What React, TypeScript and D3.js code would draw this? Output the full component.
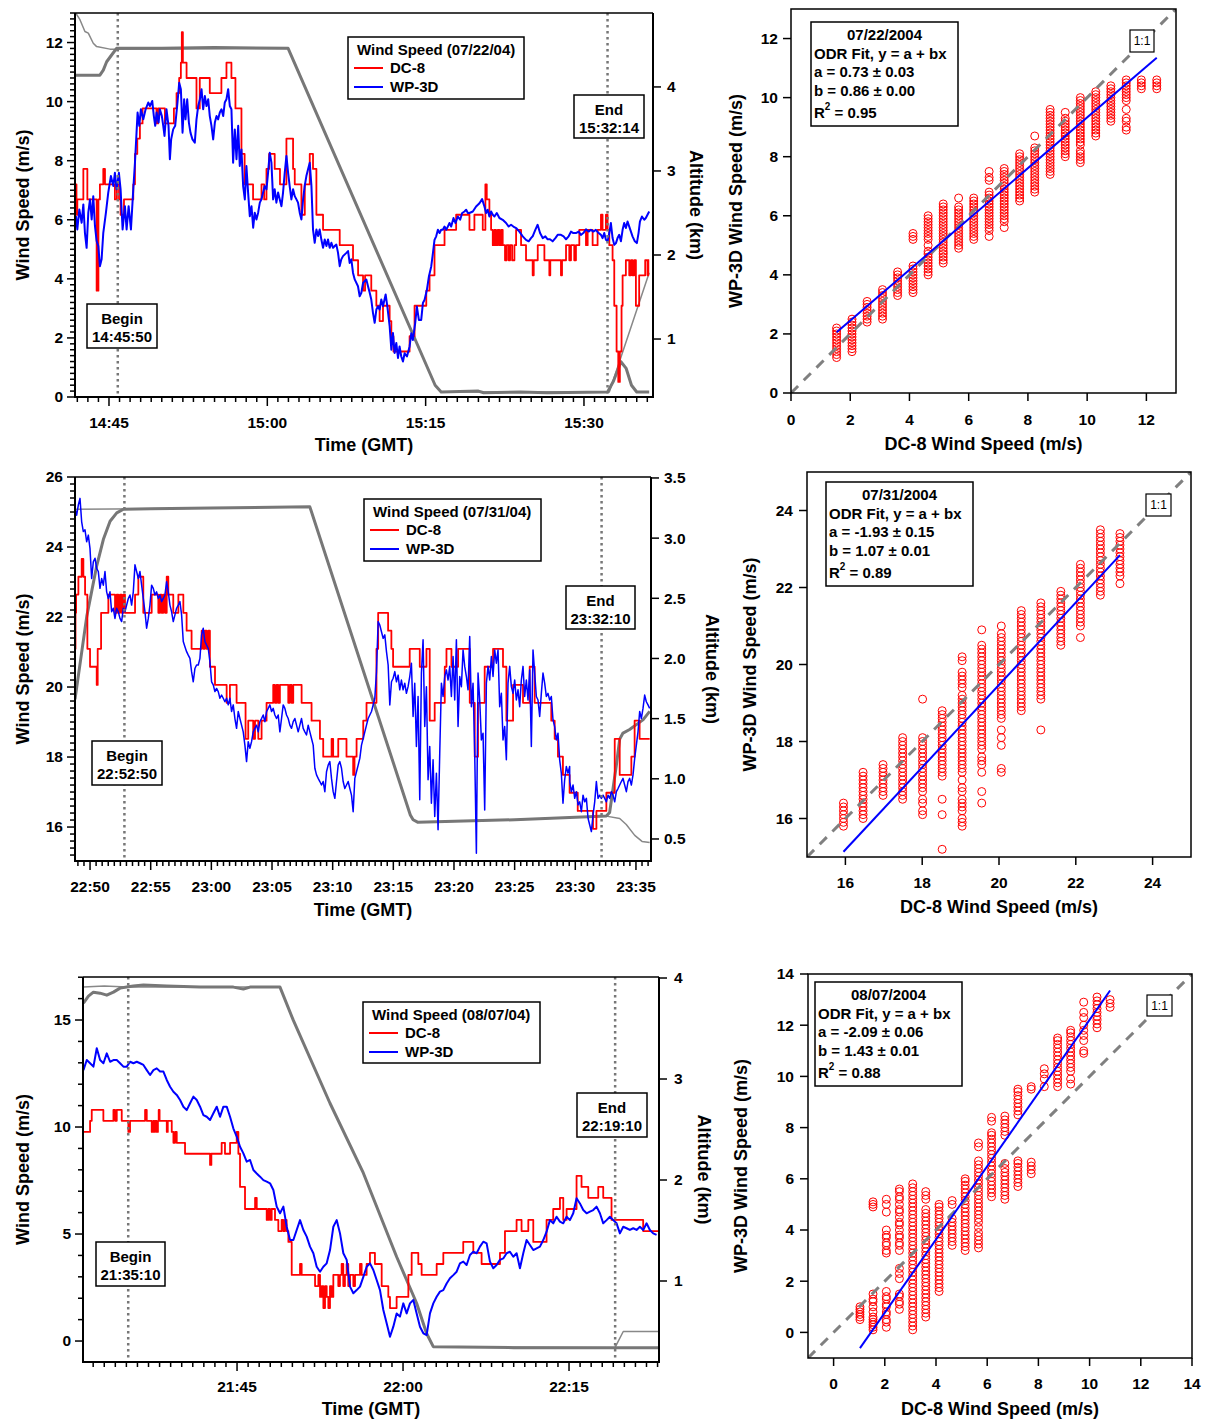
import React from "react";
import * as d3 from "d3";

type Pt = [number, number];

// ================= DATA =================
// Panel A (07/22/04) — time in minutes after 14:00 GMT
const dc8A: Pt[] = [
  [41.85,7.20],[41.92,6.17],[42.0,6.69],[42.57,7.72],[42.95,6.69],[43.83,3.60],[44.0,6.69],[44.14,7.20],[44.46,7.72],[44.62,7.20],
  [45.56,6.69],[45.75,7.20],[45.95,6.69],[46.1,6.17],[46.42,6.69],[47.3,7.20],[47.46,8.23],[47.68,8.75],[47.93,9.26],[48.18,9.77],
  [49.5,9.26],[49.65,9.77],[50.3,9.26],[51.15,9.77],[51.4,10.29],[51.65,10.80],[51.81,11.32],[51.9,12.35],[52.0,11.32],[52.35,10.80],
  [53.29,9.77],[53.6,10.80],[54.55,10.29],[55.65,10.80],[56.13,11.32],[56.6,10.80],[56.98,9.77],[57.55,8.23],[57.85,7.20],[58.65,6.69],
  [59.45,7.20],[59.7,6.69],[59.92,7.72],[60.17,8.23],[60.7,7.72],[61.2,7.20],[61.81,8.75],[62.44,7.72],[62.6,7.20],[63.23,6.17],
  [63.55,7.20],[64.02,8.23],[64.33,7.72],[64.65,6.17],[65.28,5.66],[66.86,5.14],[68.12,4.63],[68.6,4.12],[69.07,3.60],[69.26,4.12],
  [69.85,3.60],[70.33,3.09],[70.64,2.57],[70.96,3.09],[71.59,2.57],[71.75,2.06],[71.95,1.54],[73.48,2.06],[73.95,3.09],[75.06,3.60],
  [75.37,4.12],[75.84,5.14],[76.79,5.66],[77.89,6.17],[79.15,5.66],[79.62,6.17],[80.41,5.66],[80.66,7.20],[80.79,6.69],[81.04,6.17],
  [81.2,5.66],[81.36,5.14],[81.52,5.66],[81.67,5.14],[81.83,5.66],[81.99,5.14],[82.15,5.66],[82.3,5.14],[82.52,4.63],[82.68,5.14],
  [82.87,4.63],[83.0,5.14],[83.19,4.63],[83.41,5.14],[83.57,5.66],[84.04,5.14],[84.51,4.63],[85.14,4.12],[85.24,4.63],[85.62,5.14],
  [86.25,4.63],[86.72,4.12],[86.81,4.63],[87.82,4.12],[87.92,4.63],[88.3,5.14],[88.61,4.63],[88.77,5.14],[89.08,4.63],[89.24,5.14],
  [89.56,5.66],[90.19,5.14],[90.35,5.66],[90.82,5.14],[91.29,5.66],[91.61,6.17],[91.76,5.66],[92.08,6.17],[92.24,5.66],[92.4,5.14],
  [92.71,4.63],[92.87,3.09],[93.09,1.54],[93.25,0.51],[93.4,1.54],[93.56,3.09],[93.66,4.12],[93.97,4.63],[94.29,4.12],[94.45,4.63],
  [94.6,4.12],[94.76,4.63],[94.92,3.09],[95.23,4.12],[95.8,4.63],[96.02,4.12],[96.1,4.63],[96.18,4.63]
];
const wp3dA: Pt[] = [
  [41.87,6.12],[42.0,5.67],[42.19,6.35],[42.41,5.9],[42.57,6.52],[42.72,5.56],[42.88,5.05],[43.04,6.24],[43.2,6.69],[43.36,6.01],
  [43.51,6.8],[43.67,5.79],[43.83,5.28],[43.99,5.11],[44.14,4.43],[44.3,4.66],[44.46,5.56],[44.71,6.24],[44.93,6.92],[45.18,7.48],
  [45.41,7.14],[45.56,7.59],[45.72,7.03],[45.94,7.59],[46.1,7.03],[46.29,5.67],[46.51,6.46],[46.67,5.67],[46.86,6.46],[47.08,5.67],
  [47.3,7.03],[47.46,7.93],[47.61,8.95],[47.71,9.63],[47.87,9.18],[48.02,9.74],[48.25,9.4],[48.47,9.74],[48.72,9.97],[48.88,9.85],
  [49.1,10.02],[49.25,9.51],[49.38,9.18],[49.51,9.63],[49.7,9.29],[49.82,9.74],[50.01,9.51],[50.14,9.18],[50.26,8.84],[50.45,9.74],
  [50.64,9.18],[50.77,8.05],[50.89,8.72],[51.08,9.06],[51.27,9.18],[51.49,9.97],[51.65,10.64],[51.81,10.42],[51.97,8.95],[52.12,10.08],
  [52.25,9.4],[52.41,10.08],[52.57,9.29],[52.72,8.95],[52.91,8.72],[53.13,8.61],[53.29,9.4],[53.45,9.85],[53.61,10.08],[53.77,10.42],
  [53.92,9.74],[54.08,10.19],[54.24,9.85],[54.4,10.08],[54.55,9.51],[54.71,9.18],[54.87,8.72],[55.03,9.29],[55.19,9.51],[55.34,9.4],
  [55.5,9.63],[55.66,9.74],[55.82,9.51],[55.97,9.97],[56.13,10.08],[56.29,10.42],[56.45,9.85],[56.6,9.74],[56.76,7.93],[56.92,9.06],
  [57.08,8.05],[57.24,9.18],[57.39,7.82],[57.55,8.38],[57.71,7.14],[57.87,6.69],[58.02,7.82],[58.18,6.92],[58.34,6.12],[58.5,6.46],
  [58.66,5.73],[58.81,6.24],[58.97,6.01],[59.13,6.24],[59.29,6.58],[59.44,6.69],[59.6,6.92],[59.76,7.14],[59.92,7.03],[60.07,7.59],
  [60.23,8.27],[60.39,7.93],[60.55,6.69],[60.7,7.03],[60.86,6.58],[61.02,6.92],[61.18,6.69],[61.34,6.46],[61.49,6.92],[61.65,7.59],
  [61.81,8.16],[61.97,7.59],[62.12,7.14],[62.28,6.69],[62.44,7.03],[62.6,6.8],[62.76,6.69],[62.91,6.58],[63.07,6.24],[63.23,6.01],
  [63.39,6.69],[63.54,7.14],[63.7,7.48],[63.86,7.71],[64.02,7.93],[64.18,7.14],[64.33,5.67],[64.49,5.22],[64.65,5.67],[64.81,5.45],
  [64.96,5.67],[65.12,5.33],[65.28,5.05],[65.44,5.33],[65.6,5.11],[65.75,5.33],[65.91,5.05],[66.07,5.22],[66.23,5.05],[66.38,5.11],
  [66.54,5.16],[66.7,4.88],[66.86,4.43],[67.01,4.66],[67.17,4.77],[67.49,4.88],[67.65,4.94],[67.8,4.54],[67.96,4.66],[68.12,4.2],
  [68.28,3.98],[68.59,3.75],[68.75,3.41],[68.91,3.53],[69.07,3.86],[69.38,3.98],[69.54,3.75],[69.7,3.53],[69.85,3.3],[70.01,2.85],
  [70.17,2.51],[70.33,2.96],[70.49,3.07],[70.64,2.96],[70.8,3.3],[70.96,3.07],[71.21,3.47],[71.37,3.07],[71.59,2.4],[71.75,1.6],
  [71.9,2.17],[72.06,1.49],[72.22,1.83],[72.38,1.32],[72.53,1.71],[72.69,1.37],[72.85,1.2],[73.01,1.48],[73.23,1.37],[73.48,1.71],
  [73.64,2.16],[73.79,1.93],[74.01,2.5],[74.17,3.06],[74.36,2.61],[74.58,2.61],[74.74,3.18],[74.9,3.29],[75.12,3.63],[75.31,4.08],
  [75.53,4.42],[75.69,4.87],[75.84,5.32],[76.0,5.44],[76.16,5.66],[76.32,5.55],[76.47,5.66],[76.63,5.66],[76.79,5.77],[76.95,5.66],
  [77.1,5.77],[77.26,5.89],[77.42,5.77],[77.64,6.06],[77.83,5.89],[78.05,6.11],[78.27,6.0],[78.46,6.23],[78.68,6.28],[78.84,6.34],
  [79.0,6.23],[79.15,6.23],[79.47,6.28],[79.78,6.45],[80.1,6.56],[80.35,6.7],[80.57,6.45],[80.73,6.23],[80.88,6.34],[81.04,6.11],
  [81.2,6.28],[81.36,6.17],[81.52,6.11],[81.74,6.23],[81.99,6.06],[82.3,6.0],[82.62,5.89],[82.87,5.77],[83.09,5.83],[83.31,5.77],
  [83.57,5.72],[83.88,5.6],[84.2,5.44],[84.51,5.32],[84.76,5.27],[84.98,5.38],[85.14,5.44],[85.39,5.66],[85.61,5.83],[85.84,5.55],
  [86.09,5.38],[86.34,5.44],[86.56,5.34],[86.78,5.34],[87.03,5.27],[87.29,5.38],[87.51,5.49],[87.82,5.49],[88.07,5.44],[88.3,5.34],
  [88.55,5.44],[88.77,5.6],[88.99,5.55],[89.24,5.55],[89.49,5.6],[89.71,5.49],[89.94,5.55],[90.19,5.68],[90.44,5.6],[90.66,5.66],
  [90.88,5.6],[91.13,5.66],[91.39,5.55],[91.61,5.49],[91.76,5.38],[91.92,5.55],[92.08,5.32],[92.24,5.27],[92.4,5.55],[92.55,5.89],
  [92.71,5.38],[92.87,5.15],[93.03,5.21],[93.18,5.38],[93.34,5.49],[93.5,5.27],[93.66,5.66],[93.81,5.89],[93.97,5.72],[94.13,5.94],
  [94.29,5.77],[94.45,5.6],[94.6,5.44],[94.82,5.27],[95.01,5.21],[95.17,5.55],[95.3,5.94],[95.49,6.11],[95.71,6.0],[95.86,6.06],
  [96.02,6.17],[96.18,6.28]
];
const altThickA: Pt[] = [
  [41.87,4.14],[44.14,4.14],[44.46,4.2],[44.78,4.3],[45.25,4.38],[45.72,4.46],[50.0,4.46],[55.0,4.47],[61.97,4.46],[75.9,0.45],
  [76.47,0.37],[80.0,0.38],[80.5,0.36],[84.0,0.37],[86.5,0.36],[92.24,0.37],[92.8,0.5],[93.5,0.73],[94.0,0.65],[94.5,0.45],
  [95.0,0.37],[96.18,0.37]
];
const altThinA: Pt[] = [
  [41.85,4.88],[42.25,4.8],[42.72,4.66],[43.04,4.64],[43.51,4.52],[43.83,4.48],[45.09,4.45],[61.97,4.46],[75.9,0.45],[76.47,0.37],
  [92.4,0.37],[96.18,1.79]
];

// Panel B (07/31/04) — time in minutes after 22:00 GMT
const dc8B: Pt[] = [
  [48.76,21.09],[48.8,22.12],[48.85,22.64],[49.04,23.15],[49.31,23.66],[49.45,23.15],[49.59,22.64],[49.78,21.09],[50.0,20.58],[50.55,20.06],
  [50.63,21.09],[50.91,22.12],[51.51,22.64],[52.06,22.12],[52.2,22.64],[52.33,22.12],[52.47,22.64],[52.61,22.12],[52.75,22.64],[52.88,22.12],
  [53.71,22.64],[53.98,23.15],[54.39,22.12],[55.08,22.64],[55.63,22.12],[55.77,22.64],[55.9,22.12],[56.04,22.64],[56.18,22.12],[56.32,23.15],
  [56.45,22.64],[56.86,22.12],[57.28,22.64],[57.69,22.12],[57.96,21.61],[58.37,21.09],[59.2,21.61],[59.34,21.09],[59.47,21.61],[59.61,21.09],
  [59.75,21.61],[59.88,20.58],[60.3,20.06],[61.26,19.55],[61.53,20.06],[62.08,19.55],[62.82,18.52],[63.04,19.04],[63.45,18.52],[63.6,19.04],
  [63.87,18.52],[64.14,19.04],[64.55,19.55],[65.1,20.06],[65.24,19.55],[65.38,20.06],[65.51,19.55],[65.65,20.06],[66.34,19.55],[66.47,20.06],
  [66.61,19.55],[66.75,20.06],[67.44,19.55],[68.26,19.04],[68.95,18.52],[69.22,18.01],[69.91,18.52],[70.04,18.01],[70.46,18.52],[71.14,18.01],
  [71.69,17.49],[71.8,18.01],[71.97,18.52],[72.52,19.04],[72.79,19.55],[73.61,21.09],[73.75,22.12],[74.57,21.61],[74.84,21.09],[74.98,20.58],
  [76.35,21.09],[77.18,20.58],[77.73,21.09],[78.0,19.04],[78.41,19.55],[79.24,20.58],[79.38,21.09],[79.79,20.58],[80.34,21.09],[81.3,19.55],
  [81.71,18.01],[81.98,19.55],[82.53,20.58],[83.22,21.09],[84.04,20.58],[84.32,19.04],[84.87,20.06],[85.69,19.55],[86.24,20.58],[86.65,19.55],
  [88.02,19.04],[88.3,18.52],[88.57,18.01],[88.98,17.49],[89.53,16.98],[90.2,16.46],[91.46,15.95],[91.74,16.46],[92.56,16.98],[93.25,18.52],
  [93.66,17.49],[94.62,18.01],[94.89,19.04],[95.3,18.52],[96.13,18.52]
];
// WP-3D, sampled every 0.1373 min
const wp3dB1Start = 48.76;
const wp3dB1: number[] = [
  25.10,24.91,25.20,25.39,24.72,24.44,24.49,24.15,24.34,23.96,23.10,23.58,23.68,23.39,23.30,22.82,23.10,22.91,23.30,22.72,
  22.53,22.72,22.15,22.25,21.96,22.25,22.15,21.96,21.87,22.25,22.15,22.34,22.53,22.63,22.34,22.72,23.49,23.30,23.10,23.30,
  22.91,22.53,22.15,21.68,21.96,22.34,22.91,22.82,22.63,22.72,22.53,22.63,22.44,22.53,22.63,23.01,22.72,22.34,22.15,21.87,
  22.06,22.25,22.34,22.44,22.06,21.30,21.15,21.01,20.91,20.82,20.44,20.15,20.53,20.63,20.63,20.82,21.49,21.68,21.30,21.20,
  21.10,20.72,20.15,20.06,19.87,19.96,19.87,19.68,19.77,19.68,19.58,19.68,19.49,19.68,19.30,19.49,19.10,18.82,19.30,19.10,
  18.91,18.72,18.34,17.87,18.44,18.25,18.44,18.72,18.82,18.91,18.72,19.01,19.10,19.20,19.01,19.30,19.39,19.49,19.30,19.39,
  19.20,19.10,19.20,18.72,19.10,19.49,19.39,19.20,19.10,18.91,18.82,19.01,19.10,18.91,18.72,18.91,19.10,18.82,18.72,18.63,
  18.91,18.72,18.53,18.34,17.68,17.49,17.39,17.30,17.20,17.30,17.01,17.58,17.77,17.87,17.39,17.01,16.82,17.30,17.77,17.87,
  17.68,17.30,17.10,17.20,17.30,17.10,16.91,16.44,17.39,17.58,17.77,17.96,18.34,18.53,18.72,18.91,19.10,19.20,19.30,19.49,
  19.68,20.44,21.87,21.77,21.58,21.39,21.49,21.01,20.63,19.49,20.15,20.25,20.44,20.15,20.34
];
const wp3dB2Start = 75.53;
const wp3dB2: number[] = [
  19.92,20.20,19.92,20.11,19.82,20.01,20.30,20.68,19.16,20.11,18.30,19.73,16.78,20.40,21.35,18.87,20.01,17.35,18.30,16.68,
  17.92,16.30,17.54,15.92,18.11,20.11,19.73,20.30,20.49,20.20,20.59,19.73,20.87,19.63,21.35,18.87,20.30,20.01,21.06,20.59,
  20.30,19.92,21.44,19.44,20.11,18.11,15.25,20.40,19.63,18.49,18.68,16.49,20.11,20.59,20.20,20.87,20.30,21.06,20.68,21.06,
  19.44,19.82,18.49,18.87,17.92,20.11,20.59,20.01,19.82,20.20,19.63,19.92,19.44,20.20,20.59,19.73,20.20,19.63,20.49,18.30,
  21.06,20.40,19.73,19.63,19.16,19.82,20.40,20.11,19.73,19.82,19.63,19.73,19.06,18.87,18.49,18.68,17.92,17.54,16.68,17.35,
  17.73,17.54,17.73
];
const wp3dB3Start = 89.54;
const wp3dB3: number[] = [
  17.30,17.01,17.20,16.82,17.01,16.63,16.72,16.44,16.91,16.72,16.82,16.25,16.06,15.87,16.34,16.72,17.30,16.82,16.91,16.82,
  16.91,16.82,16.72,16.91,16.82,17.01,16.91,16.72,17.01,17.10,17.20,17.30,17.39,17.20,17.01,17.30,17.39,17.20,17.49,17.96,
  18.34,18.72,19.30,19.10,19.39,19.77,19.58,19.49,19.39
];
const wp3dBStep = 0.1373;
const altThickB: Pt[] = [
  [48.76,1.66],[49.73,2.35],[50.55,2.77],[51.1,2.99],[51.65,3.14],[52.2,3.21],[52.75,3.24],[55.0,3.245],[60.0,3.25],[68.12,3.26],
  [76.4,0.70],[76.63,0.66],[77.0,0.64],[85.0,0.66],[92.56,0.69],[92.83,0.72],[93.38,1.11],[93.66,1.33],[93.93,1.38],[94.48,1.41],
  [95.03,1.45],[95.58,1.49],[96.13,1.56]
];
const altThinB: Pt[] = [
  [48.76,3.24],[55.0,3.245],[68.12,3.26],[76.4,0.70],[76.63,0.66],[77.0,0.64],[85.0,0.66],[92.56,0.69],[93.66,0.67],[94.2,0.62],
  [94.9,0.53],[95.5,0.48],[96.13,0.47]
];

// Panel C (08/07/04) — time in minutes after 21:00 GMT
const dc8C: Pt[] = [
  [31.12,9.77],[31.72,10.29],[31.87,10.80],[32.92,10.29],[33.83,10.80],[33.98,10.29],[34.13,10.80],[34.58,10.29],[35.18,9.77],[35.33,10.29],
  [36.69,10.80],[36.84,10.29],[37.29,9.77],[37.44,10.29],[37.52,9.77],[37.59,10.29],[37.74,9.77],[37.85,10.29],[37.92,10.80],[38.0,10.29],
  [38.65,9.77],[38.74,10.29],[39.1,9.77],[39.25,9.26],[39.4,9.77],[39.55,9.26],[40.3,8.75],[42.56,8.23],[42.68,8.75],[43.61,9.26],
  [43.91,8.75],[44.37,9.26],[44.97,9.77],[45.12,8.75],[45.27,7.20],[45.72,6.17],[46.63,6.69],[46.78,6.17],[47.68,5.66],[47.83,6.17],
  [47.98,5.66],[48.13,6.17],[48.43,5.66],[48.73,5.14],[49.03,5.66],[49.18,5.14],[49.33,5.66],[49.48,5.14],[49.64,4.63],[49.94,3.09],
  [50.69,3.60],[50.84,3.09],[52.05,2.57],[52.35,3.09],[52.5,2.06],[52.65,2.57],[52.8,1.54],[52.95,2.57],[53.1,2.06],[53.25,1.54],
  [53.4,2.57],[53.55,2.06],[53.7,3.09],[54.15,2.57],[54.3,3.09],[54.45,3.60],[54.6,2.57],[54.75,3.09],[54.9,3.60],[55.05,2.57],
  [55.21,3.09],[55.51,2.57],[55.66,3.09],[56.11,3.60],[56.26,3.09],[56.71,3.60],[57.01,4.12],[57.46,3.60],[58.07,2.57],[58.67,2.06],
  [58.82,1.54],[59.42,2.06],[60.48,3.09],[60.78,4.12],[61.38,3.60],[61.68,3.09],[63.04,3.60],[63.64,4.12],[65.44,4.63],[66.35,4.12],
  [66.65,4.12],[67.1,3.60],[68.76,4.12],[69.21,5.14],[70.26,5.66],[70.71,5.14],[71.32,5.66],[71.77,4.63],[72.97,5.66],[73.57,6.17],
  [74.18,6.69],[74.48,5.66],[74.78,6.17],[75.68,7.72],[76.13,7.20],[76.74,6.69],[77.64,7.20],[78.09,6.69],[78.84,5.66],[81.7,5.14],
  [83.12,5.14]
];
// WP-3D, sampled every 0.3011 min
const wp3dCStart = 31.12;
const wp3dCStep = 0.3011;
const wp3dC: number[] = [
  12.66,13.13,12.98,12.82,13.68,13.13,12.98,13.44,13.05,13.13,13.13,12.98,12.82,12.82,13.05,12.98,13.05,12.98,12.90,12.66,
  12.43,12.66,12.74,12.59,12.59,12.20,11.88,11.65,11.50,11.26,10.95,10.79,11.11,11.42,11.26,10.95,10.56,10.48,10.33,10.64,
  10.95,10.48,10.95,10.95,10.48,9.93,9.55,9.08,8.77,8.38,8.46,7.99,7.83,7.68,7.52,7.45,7.37,7.06,6.28,5.97,
  6.28,5.34,4.72,4.72,5.19,5.65,5.19,4.88,4.41,4.10,3.47,3.24,3.47,3.63,4.25,5.34,5.65,5.03,4.10,3.79,
  2.54,2.23,2.38,2.54,3.00,3.47,3.63,3.32,2.85,2.38,1.45,0.83,0.20,0.67,1.29,1.14,
  1.76,1.29,1.76,1.92,1.29,0.67,0.36,0.28,1.29,1.76,2.07,2.31,2.38,2.69,2.93,3.08,3.24,3.63,3.71,3.55,
  4.02,4.17,4.10,4.41,4.64,4.56,3.71,3.40,3.55,3.79,3.86,4.10,4.17,3.94,4.10,3.40,4.10,4.72,4.49,4.25,
  4.33,4.41,4.72,5.11,5.65,5.50,5.81,5.58,5.50,5.81,5.65,5.97,6.67,6.43,6.12,5.97,6.05,6.12,6.28,5.97,
  5.50,5.65,5.81,5.65,5.50,5.03,5.34,5.27,5.19,5.27,5.19,5.34,5.19,5.50,5.19,5.03,4.96
];
const altThickC: Pt[] = [
  [31.12,3.75],[31.57,3.82],[32.02,3.86],[32.62,3.85],[33.23,3.83],[33.83,3.86],[34.43,3.9],[35.03,3.91],[35.63,3.92],[36.54,3.93],
  [38.65,3.92],[41.66,3.91],[44.67,3.91],[45.57,3.89],[46.17,3.91],[48.88,3.91],[50.09,3.58],[53.4,2.76],[56.41,2.07],[59.42,1.24],
  [61.23,0.78],[62.13,0.48],[62.73,0.35],[70.0,0.34],[83.06,0.34]
];
const altThinC: Pt[] = [
  [31.12,3.91],[33.0,3.92],[35.03,3.91],[48.88,3.91],[50.09,3.58],[53.4,2.76],[56.41,2.07],[59.42,1.24],[61.23,0.78],[62.13,0.48],
  [62.73,0.35],[79.15,0.34],[79.9,0.5],[83.06,0.5]
];

// Scatter A (DC-8 columns, WP-3D values)
const scatterAx = [1.54,2.06,2.57,3.09,3.60,4.12,4.63,5.14,5.66,6.17,6.69,7.20,7.72,8.23,8.75,9.26,9.77,10.29,10.80,11.32,11.83,12.35];
const scatterAy: number[][] = [
  [1.2,1.3,1.4,1.5,1.6,1.7,1.8,1.9,2.0,2.1,2.2],
  [1.4,1.5,1.6,1.7,1.8,1.9,2.0,2.1,2.2,2.3,2.4,2.5],
  [2.4,2.5,2.6,2.7,2.8,2.9,3.0,3.1],
  [2.5,2.6,2.7,2.8,2.9,3.0,3.1,3.2,3.3,3.4,3.5],
  [3.3,3.4,3.5,3.6,3.7,3.8,3.9,4.0,4.1],
  [3.4,3.5,3.6,3.7,3.8,3.9,4.0,4.1,4.2,4.3,5.2,5.3,5.4],
  [4.0,4.1,4.2,4.3,4.4,4.5,4.6,4.7,4.8,5.0,5.2,5.3,5.4,5.5,5.6,5.7,5.8,5.9,6.0],
  [4.4,4.5,4.6,4.7,4.8,4.9,5.0,5.1,5.2,5.3,5.4,5.5,5.6,5.7,5.8,5.9,6.0,6.1,6.2,6.3,6.4],
  [4.9,5.0,5.1,5.2,5.3,5.4,5.5,5.6,5.7,5.8,5.9,6.0,6.1,6.2,6.3,6.6],
  [5.2,5.3,5.4,5.5,5.6,5.7,5.8,5.9,6.0,6.1,6.2,6.3,6.4,6.5,6.6],
  [5.3,5.5,5.6,5.7,5.8,5.9,6.0,6.1,6.2,6.3,6.4,6.5,6.6,6.7,6.8,7.2,7.3,7.5],
  [5.6,5.8,5.9,6.0,6.1,6.2,6.3,6.4,6.5,6.6,6.7,6.8,6.9,7.0,7.1,7.2,7.3,7.4,7.5,7.6],
  [6.5,6.6,6.7,6.8,6.9,7.0,7.1,7.2,7.3,7.4,7.5,7.6,7.7,7.8,7.9,8.0,8.1],
  [6.8,6.9,7.0,7.1,7.2,7.3,7.4,7.5,7.6,7.7,7.8,7.9,8.0,8.1,8.2,8.3,8.7],
  [7.4,7.5,7.6,7.7,7.8,7.9,8.0,8.1,8.2,8.3,8.4,8.5,8.6,8.7,8.8,8.9,9.0,9.1,9.2,9.3,9.4,9.5,9.6],
  [8.0,8.1,8.2,8.3,8.4,8.5,8.6,8.7,8.8,8.9,9.0,9.1,9.2,9.3,9.5],
  [7.8,7.9,8.0,8.1,8.2,8.4,8.5,8.6,8.7,8.8,8.9,9.0,9.1,9.2,9.3,9.4,9.5,9.6,9.7,9.8,9.9,10.0],
  [8.7,8.8,8.9,9.0,9.1,9.2,9.3,9.4,9.5,9.6,9.7,9.8,9.9,10.0,10.1,10.2],
  [9.2,9.3,9.4,9.5,9.6,9.7,9.8,9.9,10.0,10.1,10.2,10.3,10.4],
  [8.9,9.0,9.2,9.3,9.6,9.9,10.0,10.1,10.2,10.3,10.4,10.5,10.6],
  [10.3,10.4,10.5,10.6],
  [10.3,10.4,10.5,10.6]
];
const scatterBx = [15.95,16.46,16.98,17.49,18.01,18.52,19.04,19.55,20.06,20.58,21.09,21.61,22.12,22.64,23.15];
const scatterBy: number[][] = [
  [15.8,15.9,16.0,16.1,16.2,16.3,16.4],
  [16.0,16.1,16.2,16.3,16.4,16.5,16.6,16.7,16.8,16.9,17.0,17.1,17.2],
  [16.6,16.7,16.8,16.9,17.0,17.1,17.2,17.3,17.4],
  [16.5,16.6,16.7,16.8,16.9,17.0,17.1,17.2,17.3,17.4,17.5,17.6,17.7,17.8,17.9,18.0,18.1],
  [16.1,16.2,16.4,16.5,16.7,16.8,16.9,17.0,17.1,17.2,17.3,17.4,17.5,17.6,17.7,17.8,17.9,18.0,18.1,19.1],
  [15.2,16.1,16.5,17.1,17.2,17.3,17.4,17.5,17.6,17.7,17.8,17.9,18.0,18.1,18.2,18.3,18.4,18.5,18.6,18.7,18.8],
  [15.8,15.9,16.0,16.2,16.3,16.4,16.5,16.7,16.8,17.0,17.2,17.3,17.4,17.5,17.6,17.7,17.8,17.9,18.0,18.1,18.2,18.3,18.4,18.5,18.6,18.7,18.8,18.9,19.0,19.1,19.2,19.4,19.5,19.6,19.7,19.8,20.1,20.2],
  [16.4,16.7,17.2,17.4,17.5,17.6,17.8,17.9,18.0,18.1,18.2,18.3,18.4,18.5,18.6,18.7,18.8,18.9,19.0,19.1,19.2,19.3,19.4,19.5,19.6,19.7,19.8,19.9,20.0,20.1,20.2,20.3,20.4,20.5,20.9],
  [17.2,17.3,17.9,18.1,18.3,18.6,18.7,18.8,18.9,19.0,19.1,19.2,19.3,19.4,19.5,19.6,19.7,19.8,19.9,20.0,20.1,20.2,20.3,20.4,20.5,20.6,20.7,20.8,21.0],
  [18.8,18.9,19.0,19.1,19.2,19.3,19.4,19.5,19.6,19.7,19.8,19.9,20.0,20.1,20.2,20.3,20.4,20.5,20.6,20.7,20.8,20.9,21.0,21.1,21.2,21.3,21.4],
  [18.3,19.1,19.2,19.3,19.4,19.5,19.6,19.7,19.8,19.9,20.0,20.1,20.2,20.3,20.4,20.5,20.6,20.7,20.8,20.9,21.0,21.1,21.2,21.3,21.4,21.5,21.6],
  [20.5,20.6,20.7,20.8,20.9,21.0,21.1,21.2,21.3,21.4,21.5,21.6,21.7,21.8,21.9],
  [20.7,21.0,21.1,21.2,21.3,21.4,21.5,21.6,21.7,21.8,21.9,22.0,22.1,22.2,22.3,22.4,22.5,22.6],
  [21.8,21.9,22.0,22.1,22.2,22.3,22.4,22.5,22.6,22.7,22.8,22.9,23.0,23.1,23.2,23.3,23.4,23.5],
  [22.1,22.3,22.4,22.5,22.6,22.7,22.8,22.9,23.0,23.1,23.2,23.3,23.4]
];
const scatterCx = [1.03,1.54,2.06,2.57,3.09,3.60,4.12,4.63,5.14,5.66,6.17,6.69,7.20,7.72,8.23,8.75,9.26,9.77,10.29,10.80];
const scatterCy: number[][] = [
  [0.5,0.6,0.7,0.8,0.9,1.0],
  [0.1,0.2,0.3,0.4,0.5,0.6,0.8,1.0,1.2,1.3,1.5,4.9,5.0,5.1],
  [0.2,0.4,0.5,0.7,0.8,1.0,1.1,1.3,1.4,1.6,3.1,3.2,3.4,3.5,3.7,3.8,4.0,4.7,5.0,5.2],
  [0.9,1.1,1.2,1.4,1.5,2.1,2.3,2.5,3.2,3.4,3.5,3.7,3.8,4.0,4.2,4.3,4.5,4.7,4.8,5.0,5.2,5.3,5.5,5.6],
  [0.1,0.25,0.4,0.55,0.7,0.85,1.0,1.15,1.3,1.45,1.6,1.75,1.9,2.05,2.2,2.35,2.5,2.65,2.8,2.95,3.1,3.25,3.4,3.55,3.7,3.85,4.0,4.15,4.3,4.45,4.6,4.75,4.9,5.05,5.2,5.35,5.5,5.65,5.8],
  [0.6,0.75,0.9,1.05,1.2,1.35,1.5,1.65,1.8,1.95,2.1,2.25,2.4,2.55,2.7,2.85,3.0,3.15,3.3,3.45,3.6,3.75,3.9,4.05,4.2,4.35,4.5,4.65,4.8,5.2,5.35,5.5],
  [1.6,1.75,1.9,2.05,2.2,2.35,2.5,2.65,2.8,2.95,3.1,3.25,3.4,3.55,3.7,3.85,4.0,4.15,4.3,4.45,4.6,4.75,4.9,5.0],
  [3.4,3.55,3.7,3.85,4.0,4.15,4.3,4.45,5.0,5.15],
  [3.2,3.35,3.5,3.65,3.8,3.95,4.1,4.25,4.4,4.55,4.7,4.85,5.0,5.15,5.3,5.45,5.6,5.75,5.9,6.0],
  [3.3,3.45,3.6,3.75,3.9,4.1,4.3,4.45,4.6,4.75,4.9,5.05,5.2,5.35,5.5,5.65,5.8,5.95,6.1,6.25,6.4,6.55,6.7,7.25,7.4],
  [5.3,5.45,5.6,5.75,5.9,6.05,6.2,6.35,6.5,6.65,6.8,6.95,7.1,7.25,7.4,7.55,7.7,7.8,8.25,8.4],
  [5.2,5.35,5.5,5.65,5.8,5.95,6.1,6.25,6.4,6.6,7.7,7.85,8.0,8.15,8.3,8.45],
  [5.7,5.85,6.0,6.15,6.3,6.45,6.6,6.7,8.5,8.65,8.8,8.95,9.1,9.25,9.4,9.5],
  [6.2,6.35,6.5,6.65,9.5,9.6],
  [9.6,9.9,10.1,10.3],
  [9.6,9.75,9.9,10.05,10.2,10.35,10.5,10.65,10.8,10.95,11.1,11.25,11.4,11.5],
  [9.7,9.9,10.2,10.35,10.5,10.65,10.8,10.95,11.1,11.25,11.4,11.55,11.7,11.8],
  [10.9,11.0,11.4,11.6,11.8,12.0,12.3,12.5,12.9],
  [11.9,12.05,12.2,12.35,12.5,12.65,12.8,12.95,13.1],
  [12.7,12.85,13.0]
];

// ODR fit results
const fitDates = ["07/22/2004", "07/31/2004", "08/07/2004"];
const fitA = [0.73, -1.93, -2.09];
const fitAErr = [0.03, 0.15, 0.06];
const fitB = [0.86, 1.07, 1.43];
const fitBErr = [0.00, 0.01, 0.01];
const fitR2 = [0.95, 0.89, 0.88];

const legendTitles = ["Wind Speed (07/22/04)", "Wind Speed (07/31/04)", "Wind Speed (08/07/04)"];
const beginLabels = ["14:45:50", "22:52:50", "21:35:10"];
const endLabels = ["15:32:14", "23:32:10", "22:19:10"];
const baseHours = [14, 22, 21];

// ================= RENDERING =================
const FONT = "'Liberation Sans', Arial, Helvetica, sans-serif";

function sampled(start: number, step: number, values: number[]): Pt[] {
  return values.map((v, i) => [start + i * step, v] as Pt);
}
function parseHMS(s: string, base: number) {
  const [h, m, sec] = s.split(":").map(Number);
  return (h - base) * 60 + m + sec / 60;
}
function fmtTime(t: number, base: number) {
  const hh = Math.floor(t / 60 + 1e-9);
  const mm = Math.round(t - hh * 60);
  return `${String(base + hh).padStart(2, "0")}:${String(mm).padStart(2, "0")}`;
}

interface TSCfg {
  id: string; x0: number; x1: number; y0: number; y1: number;
  tDom: [number, number]; vDom: [number, number]; aDom: [number, number];
  major: number; minor: number; vMajor: number; vMinor: number;
  aTicks: number[]; aDec: number;
  leftLabelRight: number; rightLabelLeft: number; rightTitleX: number;
  tickLabelY: number; timeTitleY: number;
  legend: [number, number, number, number];
  beginBox: [number, number, number, number];
  endBox: [number, number, number, number];
  blueW: number;
}

const tsLayouts: TSCfg[] = [
  { id: "a", x0: 75, x1: 653, y0: 13, y1: 397, tDom: [41.78, 96.54], vDom: [0, 13], aDom: [0.31, 4.88],
    major: 15, minor: 1, vMajor: 2, vMinor: 0.2, aTicks: [1, 2, 3, 4], aDec: 0,
    leftLabelRight: 63, rightLabelLeft: 667, rightTitleX: 690, tickLabelY: 428, timeTitleY: 451,
    legend: [348, 37, 176, 62], beginBox: [87, 304, 70, 44], endBox: [574, 95, 70, 43], blueW: 2 },
  { id: "b", x0: 75, x1: 651, y0: 477, y1: 861, tDom: [48.76, 96.24], vDom: [15.03, 26], aDom: [0.317, 3.508],
    major: 5, minor: 0.5, vMajor: 2, vMinor: 0.2, aTicks: [0.5, 1, 1.5, 2, 2.5, 3, 3.5], aDec: 1,
    leftLabelRight: 63, rightLabelLeft: 664, rightTitleX: 706, tickLabelY: 892, timeTitleY: 916,
    legend: [364, 499, 177, 62], beginBox: [92, 741, 70, 44], endBox: [566, 586, 69, 43], blueW: 1.5 },
  { id: "c", x0: 83, x1: 659, y0: 977, y1: 1362, tDom: [31.08, 83.13], vDom: [-0.98, 17.01], aDom: [0.198, 4.01],
    major: 15, minor: 1, vMajor: 5, vMinor: 1, aTicks: [1, 2, 3, 4], aDec: 0,
    leftLabelRight: 71, rightLabelLeft: 674, rightTitleX: 698, tickLabelY: 1392, timeTitleY: 1415,
    legend: [363, 1002, 177, 61], beginBox: [96, 1242, 69, 44], endBox: [577, 1093, 70, 44], blueW: 2 },
];

interface SCCfg {
  id: string; x0: number; x1: number; y0: number; y1: number; dom: [number, number]; ticks: number[];
  yLabelRight: number; yTitleX: number; xLabelY: number; xTitleY: number;
  textBox: [number, number, number, number]; oneBox: [number, number, number, number];
}
const scLayouts: SCCfg[] = [
  { id: "sa", x0: 791, x1: 1176, y0: 9, y1: 393, dom: [0, 13], ticks: [0, 2, 4, 6, 8, 10, 12],
    yLabelRight: 778, yTitleX: 742, xLabelY: 425, xTitleY: 450, textBox: [811, 22, 147, 104], oneBox: [1130, 30, 24, 22] },
  { id: "sb", x0: 807, x1: 1191, y0: 472, y1: 857, dom: [15, 25], ticks: [16, 18, 20, 22, 24],
    yLabelRight: 793, yTitleX: 756, xLabelY: 888, xTitleY: 913, textBox: [826, 482, 147, 104], oneBox: [1146, 494, 25, 22] },
  { id: "sc", x0: 808, x1: 1192, y0: 974, y1: 1358, dom: [-1, 14], ticks: [0, 2, 4, 6, 8, 10, 12, 14],
    yLabelRight: 794, yTitleX: 747, xLabelY: 1389, xTitleY: 1415, textBox: [815, 982, 147, 104], oneBox: [1147, 995, 25, 21] },
];

const RED = "#ff0000";
const BLUE = "#0000ff";

function TimePanel(props: {
  cfg: TSCfg; base: number; red: Pt[]; blue: Pt[]; altThick: Pt[]; altThin: Pt[];
  title: string; beginLabel: string; endLabel: string;
}) {
  const { cfg, base } = props;
  const { x0, x1, y0, y1 } = cfg;
  const x = d3.scaleLinear().domain(cfg.tDom).range([x0, x1]);
  const y = d3.scaleLinear().domain(cfg.vDom).range([y1, y0]);
  const ya = d3.scaleLinear().domain(cfg.aDom).range([y1, y0]);
  const lineV = d3.line<Pt>().x(d => x(d[0])).y(d => y(d[1]));
  const stepV = d3.line<Pt>().x(d => x(d[0])).y(d => y(d[1])).curve(d3.curveStepAfter);
  const lineA = d3.line<Pt>().x(d => x(d[0])).y(d => ya(d[1]));
  const clip = `clip-${cfg.id}`;

  const tTicks: { t: number; major: boolean }[] = [];
  for (let k = Math.ceil(cfg.tDom[0] / cfg.minor - 1e-9); k <= Math.floor(cfg.tDom[1] / cfg.minor + 1e-9); k++) {
    const t = k * cfg.minor;
    const r = t / cfg.major;
    tTicks.push({ t, major: Math.abs(r - Math.round(r)) < 1e-6 });
  }
  const vTicks: { v: number; major: boolean }[] = [];
  for (let k = Math.ceil(cfg.vDom[0] / cfg.vMinor - 1e-9); k <= Math.floor(cfg.vDom[1] / cfg.vMinor + 1e-9); k++) {
    const v = k * cfg.vMinor;
    const r = v / cfg.vMajor;
    vTicks.push({ v, major: Math.abs(r - Math.round(r)) < 1e-6 });
  }
  const tBegin = parseHMS(props.beginLabel, base);
  const tEnd = parseHMS(props.endLabel, base);
  const [lx, ly, lw, lh] = cfg.legend;
  const boxes: { r: [number, number, number, number]; a: string; b: string }[] = [
    { r: cfg.beginBox, a: "Begin", b: props.beginLabel },
    { r: cfg.endBox, a: "End", b: props.endLabel },
  ];
  const cy = (y0 + y1) / 2;
  return (
    <g>
      <defs>
        <clipPath id={clip}><rect x={x0} y={y0} width={x1 - x0} height={y1 - y0} /></clipPath>
      </defs>
      <g clipPath={`url(#${clip})`} fill="none" strokeLinejoin="round">
        <path d={lineA(props.altThin) || ""} stroke="#888" strokeWidth={1.5} />
        <path d={lineA(props.altThick) || ""} stroke="#777" strokeWidth={3} />
        <path d={stepV(props.red) || ""} stroke={RED} strokeWidth={1.8} />
        <path d={lineV(props.blue) || ""} stroke={BLUE} strokeWidth={cfg.blueW} />
      </g>
      {[tBegin, tEnd].map((t, i) => (
        <line key={i} x1={x(t)} x2={x(t)} y1={y0} y2={y1} stroke="#777" strokeWidth={2.5} strokeDasharray="2.5 3.5" />
      ))}
      {/* frame */}
      <line x1={x0} x2={x1} y1={y0} y2={y0} stroke="#000" strokeWidth={1.3} />
      <line x1={x0} x2={x0} y1={y0} y2={y1 + 1} stroke="#000" strokeWidth={2} />
      <line x1={x1} x2={x1} y1={y0} y2={y1 + 1} stroke="#000" strokeWidth={2} />
      <line x1={x0 - 1} x2={x1 + 1} y1={y1} y2={y1} stroke="#000" strokeWidth={2} />
      {/* time ticks */}
      {tTicks.map((d, i) => (
        <line key={`t${i}`} x1={x(d.t)} x2={x(d.t)} y1={y1} y2={y1 + (d.major ? 9 : 5)} stroke="#000" strokeWidth={1.5} />
      ))}
      {tTicks.filter(d => d.major).map((d, i) => (
        <text key={`tl${i}`} x={x(d.t)} y={cfg.tickLabelY} textAnchor="middle" fontSize={15.5} fontWeight="bold">{fmtTime(d.t, base)}</text>
      ))}
      {/* left ticks */}
      {vTicks.map((d, i) => (
        <line key={`v${i}`} x1={x0 - (d.major ? 8 : 5)} x2={x0} y1={y(d.v)} y2={y(d.v)} stroke="#000" strokeWidth={1.5} />
      ))}
      {vTicks.filter(d => d.major).map((d, i) => (
        <text key={`vl${i}`} x={cfg.leftLabelRight} y={y(d.v)} dy="0.35em" textAnchor="end" fontSize={15.5} fontWeight="bold">{String(Math.round(d.v))}</text>
      ))}
      {/* right ticks */}
      {cfg.aTicks.map((a, i) => (
        <g key={`a${i}`}>
          <line x1={x1} x2={x1 + 8} y1={ya(a)} y2={ya(a)} stroke="#000" strokeWidth={1.5} />
          <text x={cfg.rightLabelLeft} y={ya(a)} dy="0.35em" fontSize={15.5} fontWeight="bold">{a.toFixed(cfg.aDec)}</text>
        </g>
      ))}
      {/* axis titles */}
      <text transform={`translate(29,${cy}) rotate(-90)`} textAnchor="middle" fontSize={18} fontWeight="bold">Wind Speed (m/s)</text>
      <text x={(x0 + x1) / 2} y={cfg.timeTitleY} textAnchor="middle" fontSize={18} fontWeight="bold">Time (GMT)</text>
      <text transform={`translate(${cfg.rightTitleX},${cy}) rotate(90)`} textAnchor="middle" fontSize={18} fontWeight="bold">Altitude (km)</text>
      {/* legend */}
      <rect x={lx} y={ly} width={lw} height={lh} fill="#fff" stroke="#000" strokeWidth={1.5} />
      <text x={lx + 9} y={ly + 18} fontSize={15} fontWeight="bold">{props.title}</text>
      <line x1={lx + 6} x2={lx + 35} y1={ly + 31} y2={ly + 31} stroke={RED} strokeWidth={2} />
      <text x={lx + 42} y={ly + 36} fontSize={15} fontWeight="bold">DC-8</text>
      <line x1={lx + 6} x2={lx + 35} y1={ly + 50} y2={ly + 50} stroke={BLUE} strokeWidth={2} />
      <text x={lx + 42} y={ly + 55} fontSize={15} fontWeight="bold">WP-3D</text>
      {/* begin / end boxes */}
      {boxes.map((b, i) => (
        <g key={`b${i}`}>
          <rect x={b.r[0]} y={b.r[1]} width={b.r[2]} height={b.r[3]} fill="#fff" stroke="#000" strokeWidth={1.5} />
          <text x={b.r[0] + b.r[2] / 2} y={b.r[1] + 20} textAnchor="middle" fontSize={15} fontWeight="bold">{b.a}</text>
          <text x={b.r[0] + b.r[2] / 2} y={b.r[1] + 38} textAnchor="middle" fontSize={15} fontWeight="bold">{b.b}</text>
        </g>
      ))}
    </g>
  );
}

function ScatterPanel(props: { cfg: SCCfg; xs: number[]; ys: number[][]; idx: number }) {
  const { cfg, idx } = props;
  const { x0, x1, y0, y1 } = cfg;
  const x = d3.scaleLinear().domain(cfg.dom).range([x0, x1]);
  const y = d3.scaleLinear().domain(cfg.dom).range([y1, y0]);
  const pts: Pt[] = props.xs.flatMap((xv, i) => props.ys[i].map(v => [xv, v] as Pt));
  const xmin = d3.min(props.xs) as number;
  const xmax = d3.max(props.xs) as number;
  const a = fitA[idx], b = fitB[idx];
  const clip = `clip-${cfg.id}`;
  const [bx, by, bw, bh] = cfg.textBox;
  const [ox, oy, ow, oh] = cfg.oneBox;
  const fmt = (n: number) => n.toFixed(2);
  return (
    <g>
      <defs>
        <clipPath id={clip}><rect x={x0} y={y0} width={x1 - x0} height={y1 - y0} /></clipPath>
      </defs>
      <g clipPath={`url(#${clip})`}>
        {pts.map((p, i) => (
          <circle key={i} cx={x(p[0])} cy={y(p[1])} r={4} fill="none" stroke={RED} strokeWidth={1} />
        ))}
        <line x1={x(cfg.dom[0])} y1={y(cfg.dom[0])} x2={x(cfg.dom[1])} y2={y(cfg.dom[1])} stroke="#808080" strokeWidth={3} strokeDasharray="10 8" />
        <line x1={x(xmin)} y1={y(a + b * xmin)} x2={x(xmax)} y2={y(a + b * xmax)} stroke={BLUE} strokeWidth={2} />
      </g>
      <rect x={x0} y={y0} width={x1 - x0} height={y1 - y0} fill="none" stroke="#000" strokeWidth={1.5} />
      {cfg.ticks.map((t, i) => (
        <g key={i}>
          <line x1={x(t)} x2={x(t)} y1={y1} y2={y1 + 8} stroke="#000" strokeWidth={1.5} />
          <text x={x(t)} y={cfg.xLabelY} textAnchor="middle" fontSize={15.5} fontWeight="bold">{String(t)}</text>
          <line x1={x0 - 8} x2={x0} y1={y(t)} y2={y(t)} stroke="#000" strokeWidth={1.5} />
          <text x={cfg.yLabelRight} y={y(t)} dy="0.35em" textAnchor="end" fontSize={15.5} fontWeight="bold">{String(t)}</text>
        </g>
      ))}
      <text transform={`translate(${cfg.yTitleX},${(y0 + y1) / 2}) rotate(-90)`} textAnchor="middle" fontSize={18} fontWeight="bold">WP-3D Wind Speed (m/s)</text>
      <text x={(x0 + x1) / 2} y={cfg.xTitleY} textAnchor="middle" fontSize={18} fontWeight="bold">DC-8 Wind Speed (m/s)</text>
      <rect x={bx} y={by} width={bw} height={bh} fill="#fff" stroke="#000" strokeWidth={1.5} />
      <text x={bx + bw / 2} y={by + 18} textAnchor="middle" fontSize={15} fontWeight="bold">{fitDates[idx]}</text>
      <text x={bx + 3} y={by + 37} fontSize={15} fontWeight="bold">ODR Fit, y = a + bx</text>
      <text x={bx + 3} y={by + 55} fontSize={15} fontWeight="bold">{`a = ${fmt(a)} ± ${fmt(fitAErr[idx])}`}</text>
      <text x={bx + 3} y={by + 74} fontSize={15} fontWeight="bold">{`b = ${fmt(b)} ± ${fmt(fitBErr[idx])}`}</text>
      <text x={bx + 3} y={by + 96} fontSize={15} fontWeight="bold">
        R<tspan dy={-8} fontSize={10}>2</tspan><tspan dy={8}>{` = ${fmt(fitR2[idx])}`}</tspan>
      </text>
      <rect x={ox} y={oy} width={ow} height={oh} fill="#fff" stroke="#000" strokeWidth={1.2} />
      <text x={ox + ow / 2} y={oy + oh / 2} dy="0.35em" textAnchor="middle" fontSize={12}>1:1</text>
    </g>
  );
}

export default function App() {
  const wp3dB: Pt[] = [
    ...sampled(wp3dB1Start, wp3dBStep, wp3dB1),
    ...sampled(wp3dB2Start, wp3dBStep, wp3dB2),
    ...sampled(wp3dB3Start, wp3dBStep, wp3dB3),
  ];
  const wp3dCPts = sampled(wp3dCStart, wp3dCStep, wp3dC);
  const series = [
    { red: dc8A, blue: wp3dA, thick: altThickA, thin: altThinA },
    { red: dc8B, blue: wp3dB, thick: altThickB, thin: altThinB },
    { red: dc8C, blue: wp3dCPts, thick: altThickC, thin: altThinC },
  ];
  const scat = [
    { xs: scatterAx, ys: scatterAy },
    { xs: scatterBx, ys: scatterBy },
    { xs: scatterCx, ys: scatterCy },
  ];
  return (
    <svg width={1206} height={1421} viewBox="0 0 1206 1421"
      style={{ position: "absolute", left: 0, top: 0, background: "#fff" }} fontFamily={FONT}>
      <rect x={0} y={0} width={1206} height={1421} fill="#fff" />
      {tsLayouts.map((cfg, i) => (
        <TimePanel key={cfg.id} cfg={cfg} base={baseHours[i]} red={series[i].red} blue={series[i].blue}
          altThick={series[i].thick} altThin={series[i].thin} title={legendTitles[i]}
          beginLabel={beginLabels[i]} endLabel={endLabels[i]} />
      ))}
      {scLayouts.map((cfg, i) => (
        <ScatterPanel key={cfg.id} cfg={cfg} xs={scat[i].xs} ys={scat[i].ys} idx={i} />
      ))}
    </svg>
  );
}
